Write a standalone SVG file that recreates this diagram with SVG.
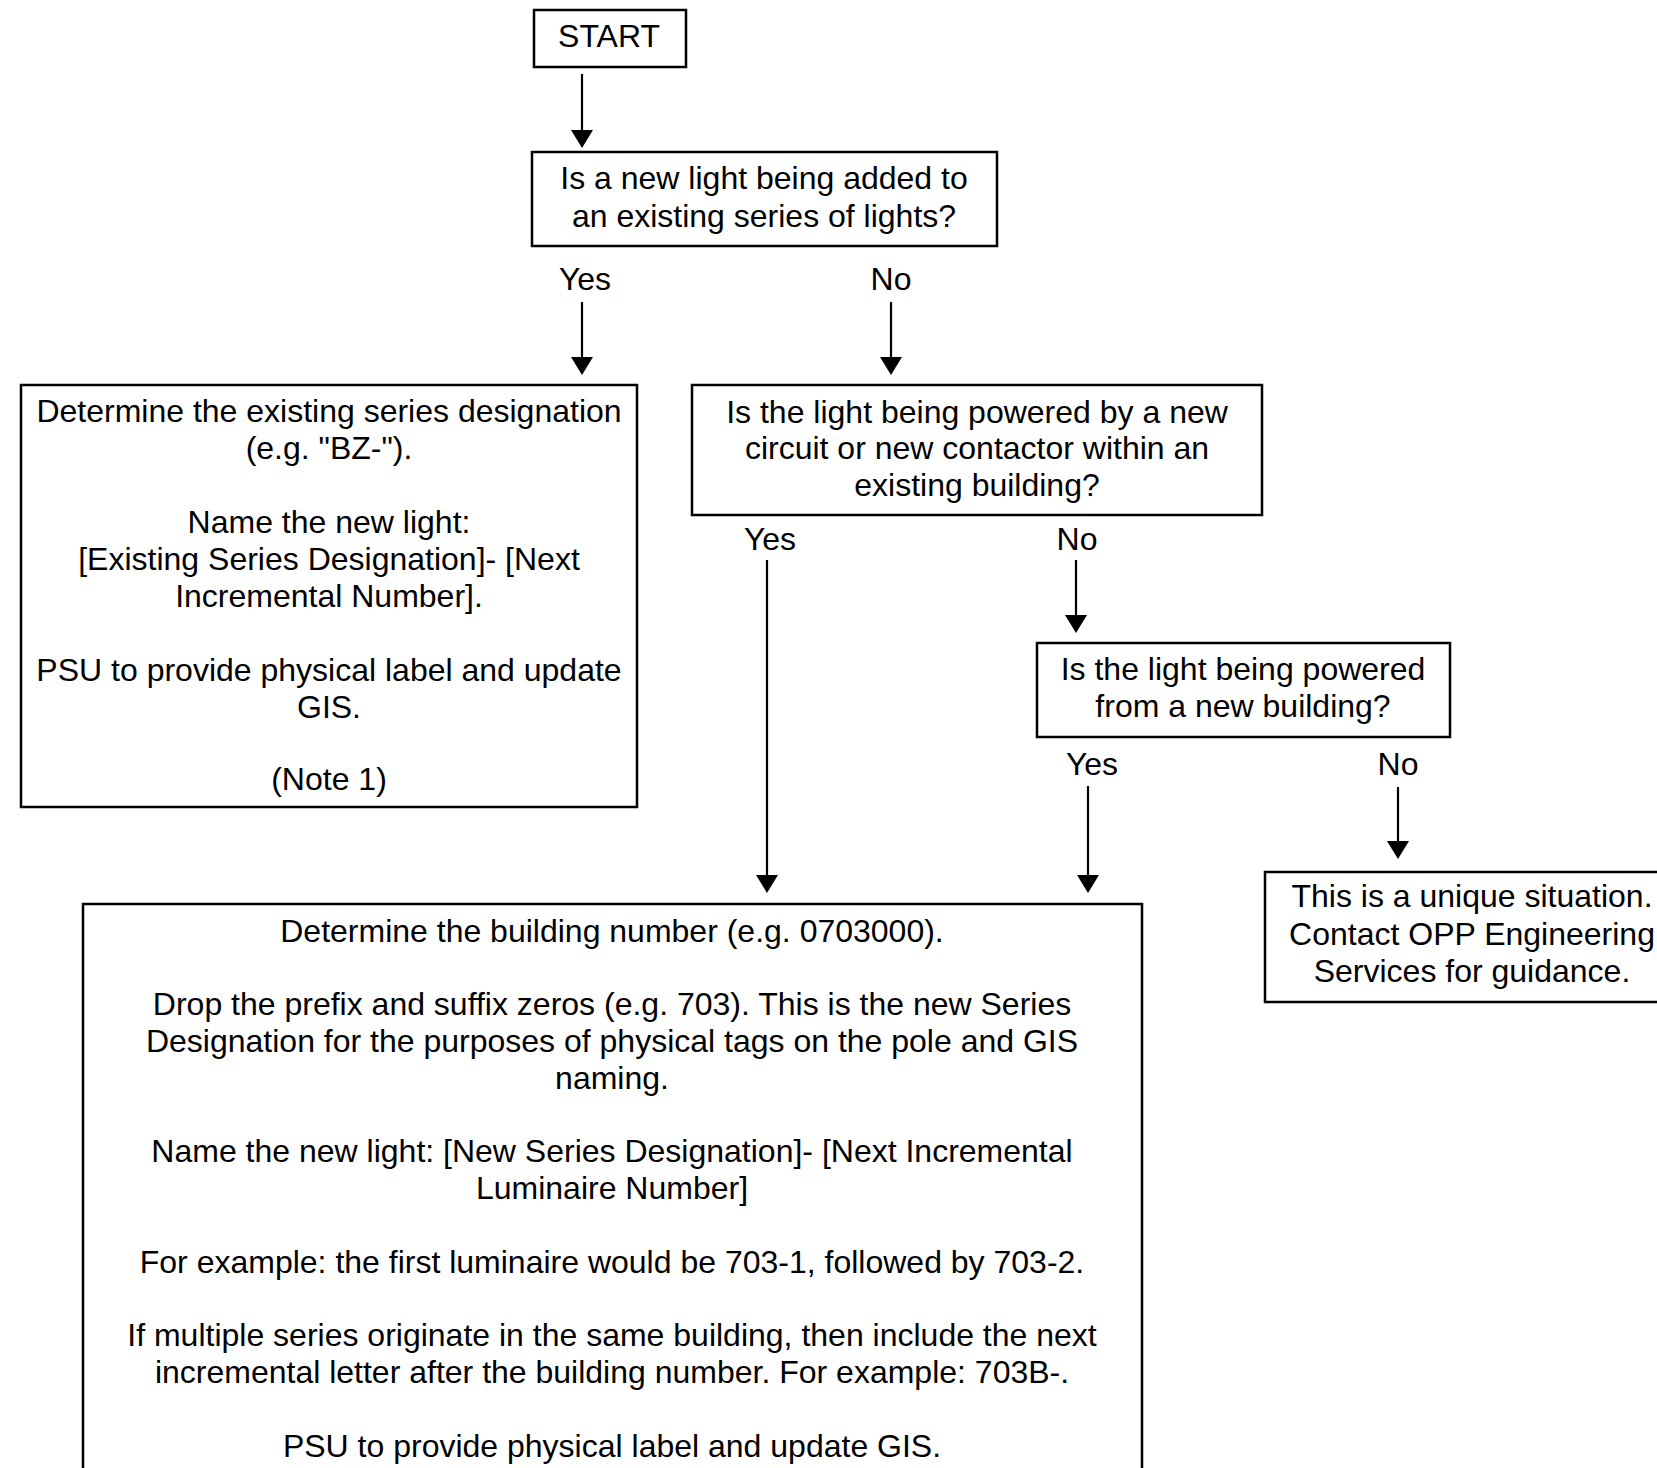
<svg xmlns="http://www.w3.org/2000/svg" width="1657" height="1468" viewBox="0 0 1657 1468">
<style>
.box{fill:#fff;stroke:#000;stroke-width:2.5}
.t{font-family:"Liberation Sans",Arial,sans-serif;font-size:32px;fill:#000;text-anchor:middle}
.c{stroke:#000;stroke-width:2.2;fill:none;marker-end:url(#ah)}
</style>
<defs>
<marker id="ah" markerUnits="userSpaceOnUse" viewBox="0 0 18 22" refX="1" refY="11" markerWidth="18" markerHeight="22" orient="auto">
<path d="M0,0 L18,11 L0,22 z" fill="#000"/>
</marker>
</defs>
<rect width="1657" height="1468" fill="#fff"/>

<g id="connectors">
<line class="c" x1="582" y1="74" x2="582" y2="131"/>
<line class="c" x1="582" y1="302" x2="582" y2="358"/>
<line class="c" x1="891" y1="302" x2="891" y2="358"/>
<line class="c" x1="767" y1="560" x2="767" y2="876"/>
<line class="c" x1="1076" y1="560" x2="1076" y2="616"/>
<line class="c" x1="1088" y1="786" x2="1088" y2="876"/>
<line class="c" x1="1398" y1="787" x2="1398" y2="842"/>
<text class="t" x="585" y="290">Yes</text>
<text class="t" x="891" y="290">No</text>
<text class="t" x="770" y="550">Yes</text>
<text class="t" x="1077" y="550">No</text>
<text class="t" x="1092" y="775">Yes</text>
<text class="t" x="1398" y="775">No</text>
</g>

<g id="start">
<rect class="box" x="534" y="10" width="152" height="57"/>
<text class="t" x="609" y="47">START</text>
</g>

<g id="q1">
<rect class="box" x="532" y="152" width="465" height="94"/>
<text class="t" x="764" y="189">Is a new light being added to</text>
<text class="t" x="764" y="227">an existing series of lights?</text>
</g>

<g id="existing">
<rect class="box" x="21" y="385" width="616" height="422"/>
<text class="t" x="329" y="422">Determine the existing series designation</text>
<text class="t" x="329" y="459">(e.g. "BZ-").</text>
<text class="t" x="329" y="533">Name the new light:</text>
<text class="t" x="329" y="570">[Existing Series Designation]- [Next</text>
<text class="t" x="329" y="607">Incremental Number].</text>
<text class="t" x="329" y="681">PSU to provide physical label and update</text>
<text class="t" x="329" y="718">GIS.</text>
<text class="t" x="329" y="790">(Note 1)</text>
</g>

<g id="q2">
<rect class="box" x="692" y="385" width="570" height="130"/>
<text class="t" x="977" y="423">Is the light being powered by a new</text>
<text class="t" x="977" y="459">circuit or new contactor within an</text>
<text class="t" x="977" y="496">existing building?</text>
</g>

<g id="q3">
<rect class="box" x="1037" y="643" width="413" height="94"/>
<text class="t" x="1243" y="680">Is the light being powered</text>
<text class="t" x="1243" y="717">from a new building?</text>
</g>

<g id="unique">
<rect class="box" x="1265" y="872" width="414" height="130"/>
<text class="t" x="1472" y="907">This is a unique situation.</text>
<text class="t" x="1472" y="945">Contact OPP Engineering</text>
<text class="t" x="1472" y="982">Services for guidance.</text>
</g>

<g id="building">
<rect class="box" x="83" y="904" width="1059" height="600"/>
<text class="t" x="612" y="942">Determine the building number (e.g. 0703000).</text>
<text class="t" x="612" y="1015">Drop the prefix and suffix zeros (e.g. 703). This is the new Series</text>
<text class="t" x="612" y="1052">Designation for the purposes of physical tags on the pole and GIS</text>
<text class="t" x="612" y="1089">naming.</text>
<text class="t" x="612" y="1162">Name the new light: [New Series Designation]- [Next Incremental</text>
<text class="t" x="612" y="1199">Luminaire Number]</text>
<text class="t" x="612" y="1273">For example: the first luminaire would be 703-1, followed by 703-2.</text>
<text class="t" x="612" y="1346">If multiple series originate in the same building, then include the next</text>
<text class="t" x="612" y="1383">incremental letter after the building number. For example: 703B-.</text>
<text class="t" x="612" y="1457">PSU to provide physical label and update GIS.</text>
</g>
</svg>
